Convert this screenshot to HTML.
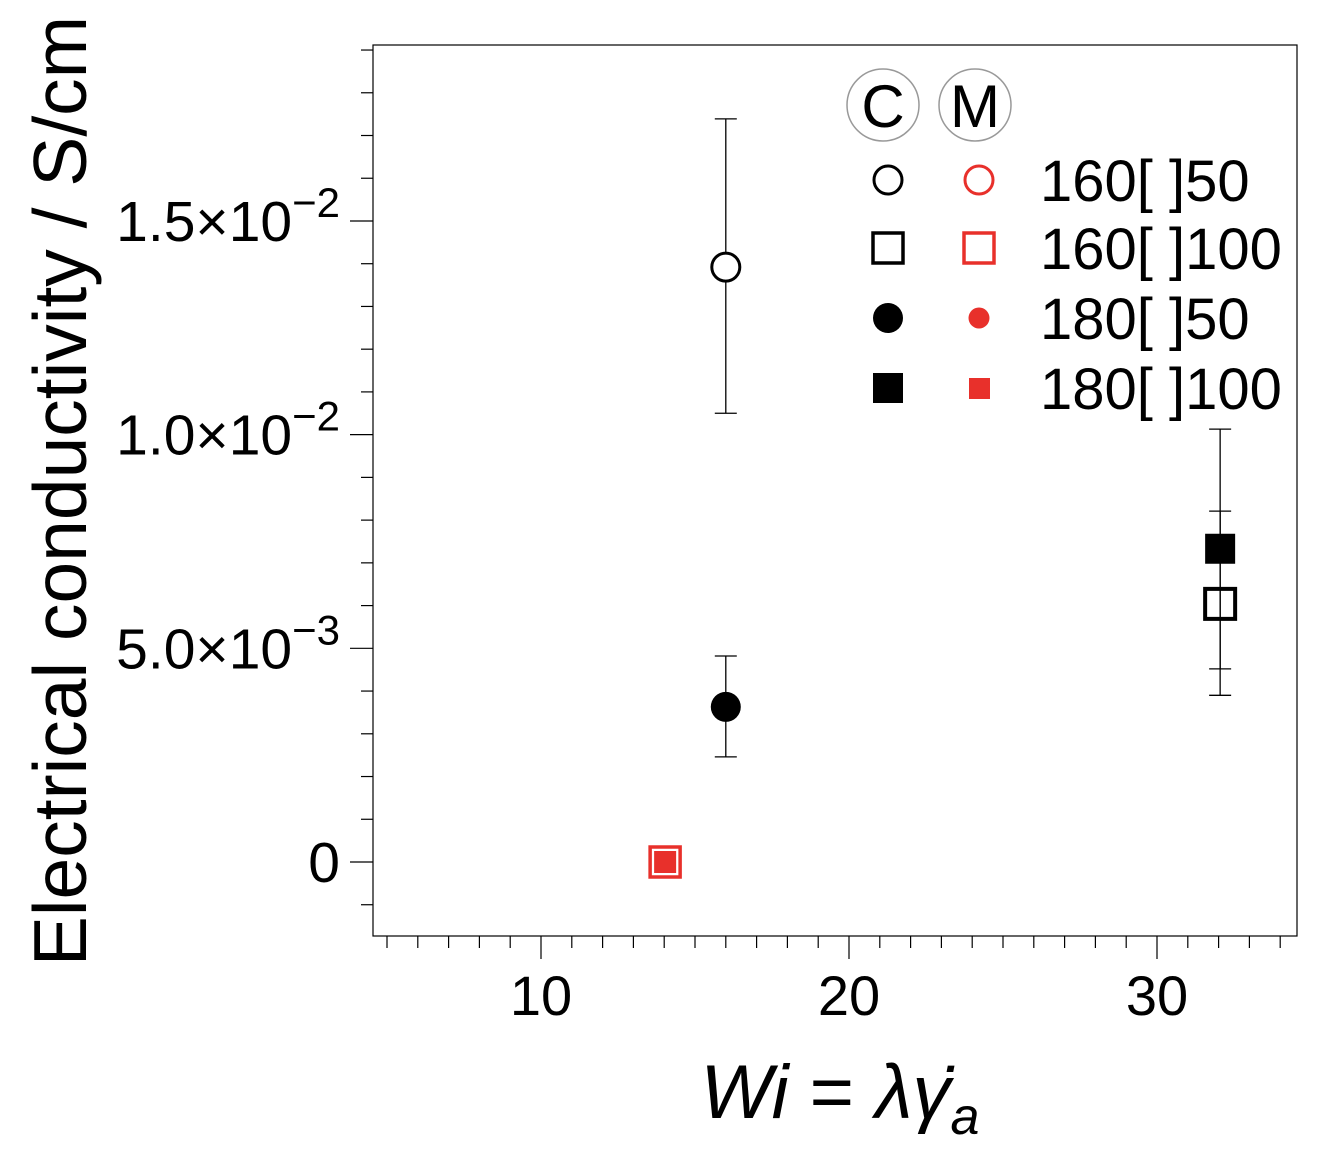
<!DOCTYPE html>
<html><head><meta charset="utf-8"><style>
html,body{margin:0;padding:0;background:#fff;}
svg{display:block;font-family:"Liberation Sans",Arial,sans-serif;}
</style></head><body>
<svg id="chart" width="1317" height="1160" viewBox="0 0 1317 1160" xmlns="http://www.w3.org/2000/svg">
<rect x="373" y="45" width="924" height="891" fill="none" stroke="#000" stroke-width="1.2"/>
<g id="axes"></g>
<g id="marks"></g>
<g id="legend">
  <circle cx="883" cy="105" r="36" fill="none" stroke="#999" stroke-width="1.5"/>
  <text x="883" y="127" font-size="60" text-anchor="middle">C</text>
  <circle cx="975" cy="105" r="36" fill="none" stroke="#999" stroke-width="1.5"/>
  <text x="975" y="127" font-size="60" text-anchor="middle">M</text>
</g>
<text transform="translate(86,491) rotate(-90)" font-size="75" text-anchor="middle">Electrical conductivity / S/cm</text>
<text x="840" y="1118" font-size="76" text-anchor="middle"><tspan font-style="italic">Wi</tspan> = <tspan font-style="italic">λγ̇</tspan><tspan font-style="italic" font-size="52" dy="16">a</tspan></text>
</svg>
<script>
const xTickVals = [10, 20, 30];
const yTickVals = [0, 0.005, 0.01, 0.015];
const yTickLabels = ["0", "5.0×10", "1.0×10", "1.5×10"];
const yTickExps = ["", "−3", "−2", "−2"];
const seriesNames = ["C 160-50", "C 180-50", "C 160-100", "C 180-100", "M 160-100", "M 180-100"];
const seriesX = [16.0, 16.0, 32.05, 32.05, 14.03, 14.03];
const seriesY = [0.01392, 0.00363, 0.00604, 0.00733, 0.0, 0.0];
const errLow = [0.0105, 0.00246, 0.00452, 0.0039, null, null];
const errHigh = [0.01739, 0.00482, 0.00821, 0.01013, null, null];
const seriesShape = ["open-circle", "filled-circle", "open-square", "filled-square", "red-open-square", "red-filled-square"];
const legendLabels = ["160[ ]50", "160[ ]100", "180[ ]50", "180[ ]100"];

const NS = "http://www.w3.org/2000/svg";
const xs = v => 541 + (v - 10) * 30.8;
const ys = v => 862 - v * 42735;
function mk(tag, attrs, parent) {
  const e = document.createElementNS(NS, tag);
  for (const k in attrs) e.setAttribute(k, attrs[k]);
  parent.appendChild(e);
  return e;
}
const axes = document.getElementById('axes');
const marks = document.getElementById('marks');
const legend = document.getElementById('legend');

for (let v = 5; v <= 34; v++) {
  const major = v % 10 === 0;
  const t = mk('line', {x1: xs(v), x2: xs(v), y1: 936, y2: major ? 959 : 948, stroke: '#000', 'stroke-width': 1.2}, axes);
  
  
}
xTickVals.forEach(v => {
  const t = mk('text', {x: xs(v), y: 1015, 'font-size': 56, 'text-anchor': 'middle'}, axes);
  t.textContent = v;
  
  
});
for (let i = -1; i <= 19; i++) {
  const v = i / 1000;
  const major = i % 5 === 0;
  const t = mk('line', {x1: major ? 350 : 361, x2: 373, y1: ys(v), y2: ys(v), stroke: '#000', 'stroke-width': 1.2}, axes);
  
  
}
yTickVals.forEach((v, i) => {
  const t = mk('text', {x: 340, y: ys(v) + 20, 'font-size': 57, 'text-anchor': 'end'}, axes);
  
  
  if (yTickExps[i]) {
    const a = mk('tspan', {}, t); a.textContent = yTickLabels[i];
    const b = mk('tspan', {'font-size': 42, dy: -24}, t); b.textContent = yTickExps[i];
  } else t.textContent = yTickLabels[i];
});

function drawMarker(shape, cx, cy, parent) {
  let e;
  if (shape === 'open-circle') e = mk('circle', {cx, cy, r: 14, fill: '#fff', stroke: '#000', 'stroke-width': 3}, parent);
  else if (shape === 'filled-circle') e = mk('circle', {cx, cy, r: 15, fill: '#000'}, parent);
  else if (shape === 'open-square') e = mk('rect', {x: cx - 15, y: cy - 15, width: 30, height: 30, fill: 'none', stroke: '#000', 'stroke-width': 4}, parent);
  else if (shape === 'filled-square') e = mk('rect', {x: cx - 15, y: cy - 15, width: 30, height: 30, fill: '#000'}, parent);
  else if (shape === 'red-open-square') e = mk('rect', {x: cx - 15, y: cy - 15, width: 30, height: 30, fill: 'none', stroke: '#e8302b', 'stroke-width': 3.5}, parent);
  else if (shape === 'red-filled-square') e = mk('rect', {x: cx - 11, y: cy - 11, width: 22, height: 22, fill: '#e8302b'}, parent);
  else if (shape === 'red-open-circle') e = mk('circle', {cx, cy, r: 14, fill: 'none', stroke: '#e8302b', 'stroke-width': 3}, parent);
  else if (shape === 'red-filled-circle') e = mk('circle', {cx, cy, r: 10.5, fill: '#e8302b'}, parent);
  return e;
}

seriesX.forEach((xv, i) => {
  if (errLow[i] === null) return;
  const cx = xs(xv);
  const g = mk('g', {stroke: '#000', 'stroke-width': 1.3}, marks);
  
  
  mk('line', {x1: cx, x2: cx, y1: ys(errLow[i]), y2: ys(errHigh[i])}, g);
  mk('line', {x1: cx - 11, x2: cx + 11, y1: ys(errLow[i]), y2: ys(errLow[i])}, g);
  mk('line', {x1: cx - 11, x2: cx + 11, y1: ys(errHigh[i]), y2: ys(errHigh[i])}, g);
});
seriesX.forEach((xv, i) => {
  const e = drawMarker(seriesShape[i], xs(xv), ys(seriesY[i]), marks);
  
  
});

const legC = ['open-circle', 'open-square', 'filled-circle', 'filled-square'];
const legM = ['red-open-circle', 'red-open-square', 'red-filled-circle', 'red-filled-square'];
const legRowY = [180, 248, 318, 388];
legendLabels.forEach((lab, i) => {
  const y = legRowY[i];
  let e = drawMarker(legC[i], 888, y, legend);
  if (legC[i] === 'open-square') { e.setAttribute('stroke-width', 3.5); }
  
  
  let m = drawMarker(legM[i], 979, y, legend);
  if (legM[i] === 'red-filled-square') { m.setAttribute('x', 969); m.setAttribute('y', y - 10); m.setAttribute('width', 21); m.setAttribute('height', 21); }
  
  
  const t = mk('text', {x: 1040, y: y + 21, 'font-size': 58}, legend);
  t.textContent = lab;
  
  
});
</script>
</body></html>
